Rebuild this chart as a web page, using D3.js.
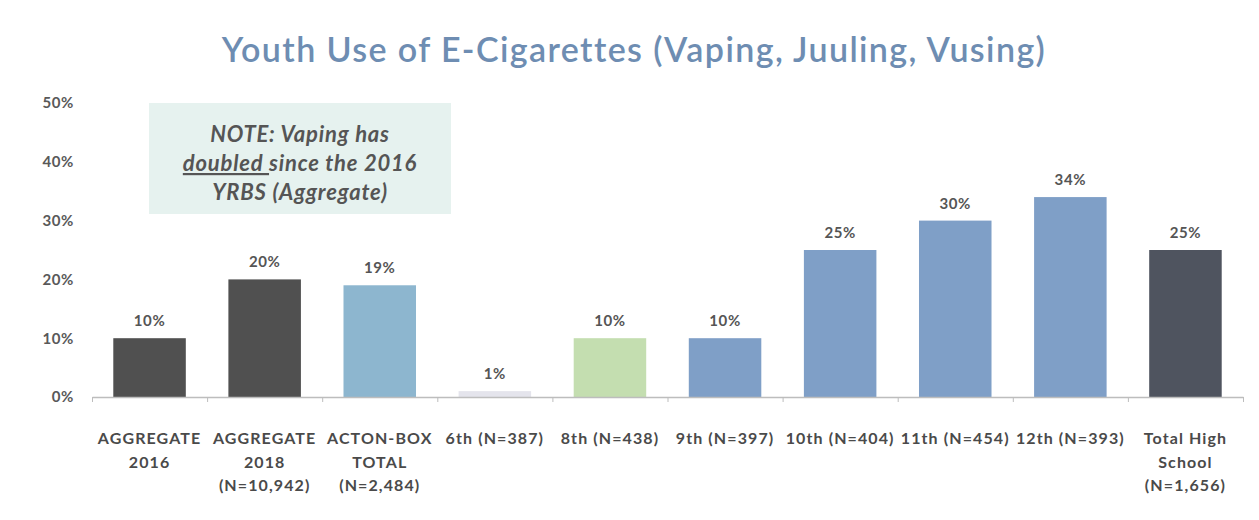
<!DOCTYPE html>
<html><head><meta charset="utf-8">
<script src="https://cdn.jsdelivr.net/npm/d3@7"></script>
<style>body{margin:0;background:#fff;}svg{display:block;}</style>
</head><body>
<svg id="c" width="1259" height="520"></svg>
<script>
const categories = [
  ["AGGREGATE","2016"],
  ["AGGREGATE","2018","(N=10,942)"],
  ["ACTON-BOX","TOTAL","(N=2,484)"],
  ["6th (N=387)"],
  ["8th (N=438)"],
  ["9th (N=397)"],
  ["10th (N=404)"],
  ["11th (N=454)"],
  ["12th (N=393)"],
  ["Total High","School","(N=1,656)"]
];
const values = [10, 20, 19, 1, 10, 10, 25, 30, 34, 25];
const barColors = ["#505050","#505050","#8db6cf","#e4e4ec","#c4deb0","#7f9fc7","#7f9fc7","#7f9fc7","#7f9fc7","#4f545f"];
const yTicks = [0, 10, 20, 30, 40, 50];
const titleText = "Youth Use of E-Cigarettes (Vaping, Juuling, Vusing)";

const svg = d3.select("#c");
const font = "Lato, 'Open Sans', sans-serif";

const x = d3.scaleBand().domain(d3.range(categories.length)).range([92, 1243]).paddingInner(0.37).paddingOuter(0.185);
const y = d3.scaleLinear().domain([0, 50]).range([397, 103]);

// title
svg.append("text").attr("x", 634).attr("y", 62).attr("text-anchor", "middle")
  .attr("font-family", font).attr("font-size", 34).attr("font-weight", 600)
  .attr("letter-spacing", 1.4)
  .attr("fill", "#6e8db2").text(titleText);

// y axis labels
const yAxis = d3.axisLeft(y).tickValues(yTicks).tickFormat(d => d + "%").tickSize(0).tickPadding(0);
const yg = svg.append("g").attr("transform", "translate(74,0)").call(yAxis);
yg.select(".domain").remove();
yg.selectAll("text").attr("font-family", font).attr("font-size", 15).attr("font-weight", 700)
  .attr("letter-spacing", 0.6).attr("fill", "#595959");

// note box
const note = svg.append("g");
note.append("rect").attr("x", 149).attr("y", 103).attr("width", 302).attr("height", 111).attr("fill", "#e6f2ef");
const nt = note.append("g").attr("font-family", font).attr("font-size", 22).attr("font-weight", 700)
  .attr("font-style", "italic").attr("fill", "#555").attr("text-anchor", "middle").attr("letter-spacing", 0.8);
nt.append("text").attr("x", 300).attr("y", 142).text("NOTE: Vaping has");
const l2 = nt.append("text").attr("x", 300).attr("y", 171);
l2.append("tspan").attr("text-decoration", "underline").text("doubled ");
l2.append("tspan").text("since the 2016");
nt.append("text").attr("x", 300).attr("y", 200).text("YRBS (Aggregate)");

// bars
svg.append("g").selectAll("rect").data(values).join("rect")
  .attr("x", (d, i) => x(i)).attr("width", x.bandwidth())
  .attr("y", d => y(d)).attr("height", d => y(0) - y(d))
  .attr("fill", (d, i) => barColors[i]);

// x axis
const xb = d3.scaleLinear().domain([0, categories.length]).range([92, 1243]);
const xa = svg.append("g").attr("transform", `translate(0,${y(0)})`)
  .call(d3.axisBottom(xb).tickValues(d3.range(categories.length + 1)).tickFormat("").tickSize(5).tickSizeOuter(0));
xa.select(".domain").attr("stroke", "#bdbdbd").attr("stroke-width", 1.5);
xa.selectAll(".tick line").attr("stroke", "#bdbdbd");

// value labels
svg.append("g").selectAll("text").data(values).join("text")
  .attr("x", (d, i) => x(i) + x.bandwidth() / 2).attr("y", d => y(d) - 12)
  .attr("text-anchor", "middle").attr("font-family", font).attr("font-size", 15).attr("font-weight", 700)
  .attr("letter-spacing", 0.6).attr("fill", "#555").text(d => d + "%");

// category labels
const cl = svg.append("g").attr("font-family", font).attr("font-size", 16).attr("font-weight", 700)
  .attr("fill", "#4a4a4a").attr("text-anchor", "middle").attr("letter-spacing", 1.1);
categories.forEach((lines, i) => {
  lines.forEach((t, j) => {
    cl.append("text").attr("x", x(i) + x.bandwidth() / 2).attr("y", 444 + j * 23.5).text(t);
  });
});
</script>
</body></html>
